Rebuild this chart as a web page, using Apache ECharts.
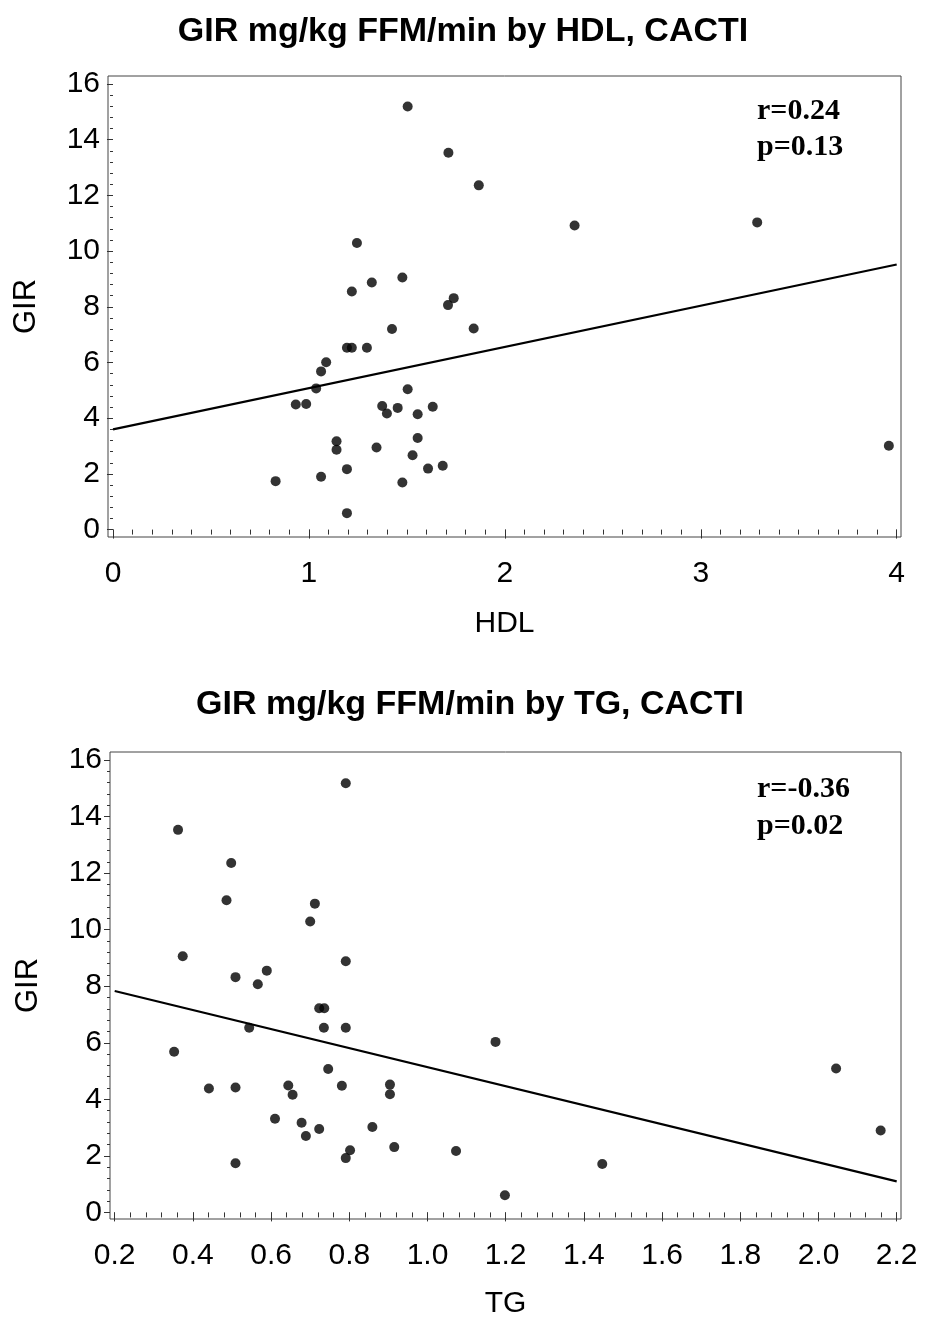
<!DOCTYPE html>
<html>
<head>
<meta charset="utf-8">
<script src="https://cdn.jsdelivr.net/npm/echarts@6/dist/echarts.min.js"></script>
<style>
html,body{margin:0;padding:0;background:#fff;}
#chart{width:926px;height:1324px;}
</style>
</head>
<body>
<div id="chart"></div>
<script>
// ---- Data: top panel (GIR by HDL) ----
var hdl = [1.504,1.712,1.867,1.245,1.477,1.321,1.219,1.710,1.739,1.424,1.841,1.194,1.219,1.296,1.088,1.062,1.037,1.504,0.933,0.986,1.374,1.398,1.453,1.555,1.632,1.141,1.141,1.345,1.555,1.529,1.194,1.608,1.683,1.062,0.830,1.477,1.194,2.356,3.288,3.960];
var girHdl = [15.19,13.53,12.36,10.29,9.05,8.87,8.55,8.06,8.31,7.20,7.22,6.53,6.53,6.53,6.01,5.68,5.07,5.04,4.49,4.51,4.44,4.17,4.37,4.14,4.41,3.17,2.87,2.95,3.29,2.67,2.17,2.19,2.29,1.90,1.74,1.69,0.59,10.92,11.03,3.01];
var regHdlX = [0, 4];
var regHdlY = [3.60, 9.52];

// ---- Data: bottom panel (GIR by TG) ----
var tg = [0.791,0.362,0.498,0.486,0.712,0.700,0.374,0.791,0.589,0.509,0.566,0.723,0.736,0.544,0.735,0.791,1.174,0.352,0.746,0.441,0.509,0.644,0.655,0.781,0.904,0.904,0.610,0.678,0.689,0.723,0.859,0.802,0.791,0.915,1.073,0.509,1.198,1.447,2.045,2.159];
var girTg = [15.18,13.53,12.36,11.04,10.92,10.29,9.06,8.88,8.55,8.32,8.07,7.22,7.22,6.53,6.53,6.53,6.03,5.68,5.07,4.38,4.42,4.49,4.16,4.48,4.52,4.18,3.31,3.17,2.70,2.95,3.02,2.20,1.92,2.31,2.17,1.74,0.61,1.71,5.09,2.90];
var regTgX = [0.2, 2.2];
var regTgY = [7.83, 1.10];

// ---- Tick labels ----
var hdlTicks = [0,1,2,3,4];
var tgTicks = [0.2,0.4,0.6,0.8,1.0,1.2,1.4,1.6,1.8,2.0,2.2];
var girTicks = [0,2,4,6,8,10,12,14,16];

var titles = ['GIR mg/kg FFM/min by HDL, CACTI', 'GIR mg/kg FFM/min by TG, CACTI'];
var stats = [['r=0.24','p=0.13'], ['r=-0.36','p=0.02']];

function minorTicks(a, b, step) {
  var out = [];
  var n = Math.round((b - a) / step);
  for (var i = 0; i <= n; i++) out.push(+(a + i * step).toFixed(4));
  return out;
}
function pairs(xs, ys) { return xs.map(function (x, i) { return [x, ys[i]]; }); }

var SANS = '"Liberation Sans", Arial, Helvetica, sans-serif';
var SERIF = '"Liberation Serif", "Times New Roman", serif';
var tickColor = '#333';

function xMajor(gi, min, max, ticks, name, nameGap, fmt) {
  return {
    type: 'value', gridIndex: gi, min: min, max: max, position: 'bottom',
    name: name, nameLocation: 'middle', nameGap: nameGap,
    nameTextStyle: { fontFamily: SANS, fontSize: 30, color: '#000' },
    axisLine: { show: false },
    splitLine: { show: false },
    axisTick: { show: true, customValues: ticks, length: 9, lineStyle: { color: tickColor, width: 1 } },
    axisLabel: { show: true, customValues: ticks, margin: 22, fontFamily: SANS, fontSize: 30, color: '#000', formatter: fmt }
  };
}
function xMinor(gi, min, max, vals) {
  return {
    type: 'value', gridIndex: gi, min: min, max: max, position: 'bottom',
    axisLine: { show: false }, splitLine: { show: false },
    axisTick: { show: true, customValues: vals, length: 5, lineStyle: { color: tickColor, width: 1 } },
    axisLabel: { show: false }
  };
}
function yMajor(gi, min, max) {
  return {
    type: 'value', gridIndex: gi, min: min, max: max, position: 'left',
    name: 'GIR', nameLocation: 'middle', nameGap: 66,
    nameTextStyle: { fontFamily: SANS, fontSize: 31, color: '#000' },
    axisLine: { show: false }, splitLine: { show: false },
    axisTick: { show: true, customValues: girTicks, length: 6, lineStyle: { color: tickColor, width: 1 } },
    axisLabel: { show: true, customValues: girTicks, margin: 8, fontFamily: SANS, fontSize: 30, color: '#000' }
  };
}
function yMinor(gi, min, max) {
  return {
    type: 'value', gridIndex: gi, min: min, max: max, position: 'left',
    axisLine: { show: false }, splitLine: { show: false },
    axisTick: { show: true, customValues: minorTicks(0, 16, 0.4), length: 3, lineStyle: { color: tickColor, width: 1 } },
    axisLabel: { show: false }
  };
}

var chart = echarts.init(document.getElementById('chart'), null, { renderer: 'canvas' });

var option = {
  animation: false,
  backgroundColor: '#fff',
  title: [
    { text: titles[0], left: 458, top: 10, textAlign: 'center',
      textStyle: { fontFamily: SANS, fontWeight: 'bold', fontSize: 34, color: '#000' } },
    { text: titles[1], left: 465, top: 683, textAlign: 'center',
      textStyle: { fontFamily: SANS, fontWeight: 'bold', fontSize: 34, color: '#000' } }
  ],
  grid: [
    { left: 108, top: 76, width: 793, height: 461, show: true, borderColor: '#444', borderWidth: 1, backgroundColor: 'transparent' },
    { left: 110, top: 752, width: 791, height: 467, show: true, borderColor: '#444', borderWidth: 1, backgroundColor: 'transparent' }
  ],
  xAxis: [
    xMajor(0, -0.0255, 4.022, hdlTicks, 'HDL', 72, function (v) { return String(Math.round(v)); }),
    xMinor(0, -0.0255, 4.022, minorTicks(0, 4, 0.1)),
    xMajor(1, 0.188, 2.211, tgTicks, 'TG', 70, function (v) { return v.toFixed(1); }),
    xMinor(1, 0.188, 2.211, minorTicks(0.2, 2.2, 0.04))
  ],
  yAxis: [
    yMajor(0, -0.266, 16.287),
    yMinor(0, -0.266, 16.287),
    yMajor(1, -0.233, 16.283),
    yMinor(1, -0.233, 16.283)
  ],
  series: [
    { type: 'line', xAxisIndex: 0, yAxisIndex: 0, data: pairs(regHdlX, regHdlY), symbol: 'none',
      lineStyle: { color: '#000', width: 2.2 }, silent: true, z: 2 },
    { type: 'scatter', xAxisIndex: 0, yAxisIndex: 0, data: pairs(hdl, girHdl), symbol: 'circle', symbolSize: 10,
      itemStyle: { color: '#000' }, z: 3 },
    { type: 'line', xAxisIndex: 2, yAxisIndex: 2, data: pairs(regTgX, regTgY), symbol: 'none',
      lineStyle: { color: '#000', width: 2.2 }, silent: true, z: 2 },
    { type: 'scatter', xAxisIndex: 2, yAxisIndex: 2, data: pairs(tg, girTg), symbol: 'circle', symbolSize: 10,
      itemStyle: { color: '#000' }, z: 3 }
  ],
  graphic: [
    { type: 'text', left: 757, top: 93, style: { text: stats[0][0] + '\n' + stats[0][1], font: 'bold 30px ' + SERIF, fill: '#000', lineHeight: 36 } },
    { type: 'text', left: 757, top: 771, style: { text: stats[1][0] + '\n' + stats[1][1], font: 'bold 30px ' + SERIF, fill: '#000', lineHeight: 37 } }
  ]
};
chart.setOption(option);
</script>
</body>
</html>
